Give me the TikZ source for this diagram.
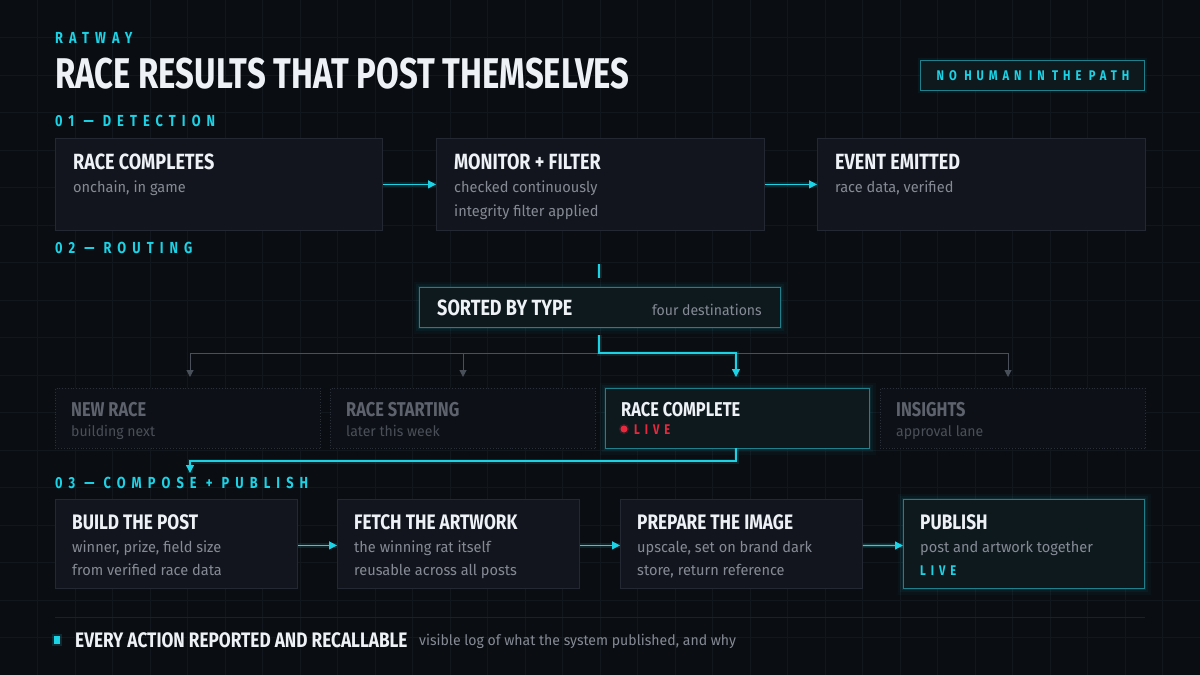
\documentclass[tikz,border=0pt]{standalone}
\usepackage{fontspec}
\setmainfont{Fira Sans}
\newfontfamily\titlef[FakeStretch=0.765]{Fira Sans}
\newfontfamily\headf[FakeStretch=0.82]{Fira Sans}
\newfontfamily\labf[FakeStretch=0.8,LetterSpace=38]{Fira Sans}
\newfontfamily\tagf[FakeStretch=0.8,LetterSpace=35]{Fira Sans}
\newfontfamily\bodyf[FakeStretch=0.97]{Fira Sans}
\usetikzlibrary{arrows.meta}
\definecolor{bgc}{HTML}{0A0D12}
\definecolor{gridc}{HTML}{12171D}
\definecolor{cardfill}{HTML}{12151D}
\definecolor{cardline}{HTML}{232833}
\definecolor{dimfill}{HTML}{0D1016}
\definecolor{dimline}{HTML}{2A2F38}
\definecolor{cyanc}{HTML}{1CD3E6}
\definecolor{tealline}{HTML}{1F7F8A}
\definecolor{activefill}{HTML}{0E191E}
\definecolor{titlec}{HTML}{EEF2F7}
\definecolor{subc}{HTML}{858A94}
\definecolor{dimtitle}{HTML}{5D626C}
\definecolor{dimsub}{HTML}{4A4F58}
\definecolor{busc}{HTML}{4A505A}
\definecolor{redc}{HTML}{E8283C}
\definecolor{rulec}{HTML}{1C2028}
\tikzset{
  card/.style={draw=cardline, fill=cardfill, line width=0.8pt, inner sep=0, anchor=north west},
  dimcard/.style={draw=dimline, fill=dimfill, line width=0.8pt, dotted, inner sep=0, anchor=north west},
  hotcard/.style={draw=tealline, fill=activefill, line width=1pt, inner sep=0, anchor=north west,
     preaction={draw=cyanc, line width=12pt, draw opacity=0.03},
     preaction={draw=cyanc, line width=7pt, draw opacity=0.05},
     preaction={draw=cyanc, line width=3.5pt, draw opacity=0.08}},
  ttl/.style={font=\headf\bfseries\fontsize{22}{22}\selectfont, text=titlec, inner sep=0, anchor=base west},
  ttlb/.style={ttl, font=\headf\bfseries\fontsize{21}{21}\selectfont},
  dimttl/.style={ttl, text=dimtitle},
  sub/.style={font=\bodyf\fontsize{15}{15}\selectfont, text=subc, inner sep=0, anchor=base west},
  dimsubt/.style={sub, text=dimsub},
  lab/.style={font=\labf\bfseries\fontsize{16}{16}\selectfont, text=cyanc, inner sep=0, anchor=base west},
  flow/.style={draw=cyanc, line width=1.3pt, -{Triangle[length=8pt,width=8pt]},
     preaction={draw=cyanc, line width=5pt, draw opacity=0.12, arrows=-}},
  cyanline/.style={draw=cyanc, line width=1.3pt,
     preaction={draw=cyanc, line width=5pt, draw opacity=0.12}},
  busline/.style={draw=busc, line width=1pt},
  busarrow/.style={draw=busc, line width=1pt, -{Triangle[length=7pt,width=7pt]}},
}
\begin{document}
\begin{tikzpicture}[x=1pt,y=-1pt]
\fill[bgc] (0,0) rectangle (1200,675);
\useasboundingbox (0,0) rectangle (1200,675);
\foreach \i in {1,...,31} \draw[gridc, line width=0.8pt] (\i*37.5,0) -- (\i*37.5,675);
\foreach \j in {1,...,17} \draw[gridc, line width=0.8pt] (0,\j*37.5) -- (1200,\j*37.5);

% header
\node[lab] (brand) at (55,43) {RATWAY};
\node[font=\titlef\bfseries\fontsize{43}{43}\selectfont, text=titlec, inner sep=0, anchor=base west] (title) at (55,88) {RACE RESULTS THAT POST THEMSELVES};
\node[draw=tealline, fill=activefill, line width=1pt, inner sep=0, anchor=north west, minimum width=224pt, minimum height=30pt,
      preaction={draw=cyanc, line width=5pt, draw opacity=0.05}] (nohuman) at (920,60) {};
\node[lab, font=\tagf\bfseries\fontsize{14}{14}\selectfont, anchor=base] (nohumant) at (1033,80) {NO HUMAN IN THE PATH};

% 01 detection
\node[lab] (l1) at (55,126) {01 — DETECTION};
\node[card, minimum width=327pt, minimum height=92pt] (rc) at (55,138) {};
\node[card, minimum width=328pt, minimum height=92pt] (mf) at (436,138) {};
\node[card, minimum width=328pt, minimum height=92pt] (ee) at (817,138) {};
\node[ttl] (rct) at (73,169) {RACE COMPLETES};
\node[sub] (rcs) at (73,192) {onchain, in game};
\node[ttl] (mft) at (454,169) {MONITOR + FILTER};
\node[sub] (mfs1) at (454,192) {checked continuously};
\node[sub] (mfs2) at (454,216) {integrity filter applied};
\node[ttl] (eet) at (835,169) {EVENT EMITTED};
\node[sub] (ees) at (835,192) {race data, verified};
\draw[flow] (rc.east) -- (mf.west);
\draw[flow] (mf.east) -- (ee.west);

% 02 routing
\node[lab] (l2) at (55,253) {02 — ROUTING};
\coordinate (stubtop) at (599,264);
\coordinate (stubbot) at (599,278);
\draw[cyanline] (stubtop) -- (stubbot);
\node[hotcard, minimum width=361pt, minimum height=40pt] (st) at (419,287) {};
\node[ttl] (stt) at (437,315) {SORTED BY TYPE};
\node[sub, anchor=base east, font=\bodyf\fontsize{14.5}{14.5}\selectfont] (sts) at (762,315) {four destinations};

\node[dimcard, minimum width=265pt, minimum height=60pt] (nr) at (55,388) {};
\node[dimcard, minimum width=265pt, minimum height=60pt] (rs) at (330,388) {};
\node[hotcard, minimum width=264pt, minimum height=60pt] (rcp) at (605,388) {};
\node[dimcard, minimum width=265pt, minimum height=60pt] (ins) at (880,388) {};
\node[dimttl, font=\headf\bfseries\fontsize{20}{20}\selectfont] (nrt) at (71,416) {NEW RACE};
\node[dimsubt, font=\bodyf\fontsize{14.5}{14.5}\selectfont] (nrs) at (71,436) {building next};
\node[dimttl, font=\headf\bfseries\fontsize{20}{20}\selectfont] (rst) at (346,416) {RACE STARTING};
\node[dimsubt, font=\bodyf\fontsize{14.5}{14.5}\selectfont] (rss) at (346,436) {later this week};
\node[ttl, font=\headf\bfseries\fontsize{20}{20}\selectfont] (rcpt) at (621,416) {RACE COMPLETE};
\node[circle, fill=redc, inner sep=0, minimum size=7pt, preaction={draw=redc, line width=3pt, draw opacity=0.2}] (livedot) at (624,429) {};
\node[lab, text=redc, font=\tagf\bfseries\fontsize{14}{14}\selectfont] (livet) at (634,434) {LIVE};
\node[dimttl, font=\headf\bfseries\fontsize{20}{20}\selectfont] (inst) at (896,416) {INSIGHTS};
\node[dimsubt, font=\bodyf\fontsize{14.5}{14.5}\selectfont] (inss) at (896,436) {approval lane};

\coordinate (busl) at (190,353);
\coordinate (bus2) at (463,353);
\coordinate (busj) at (599,353);
\coordinate (busk) at (736,353);
\coordinate (busr) at (1008,353);
\draw[busline] (busl) -- (busr);
\draw[busarrow] (busl) -- (190,377);
\draw[busarrow] (bus2) -- (463,377);
\draw[busarrow] (busr) -- (1008,377);
\coordinate (sbot) at (599,335);
\coordinate (rcin) at (736,377);
\draw[flow] (sbot) -- (busj) -- (busk) -- (rcin);

\coordinate (rcout) at (736,448);
\coordinate (retr) at (736,461);
\coordinate (retl) at (190,461);
\coordinate (retend) at (190,473);
\draw[flow] (rcout) -- (retr) -- (retl) -- (retend);

% 03 compose
\node[lab] (l3) at (55,488) {03 — COMPOSE + PUBLISH};
\node[card, minimum width=242pt, minimum height=89pt] (bp) at (55,499) {};
\node[card, minimum width=242pt, minimum height=89pt] (fa) at (337,499) {};
\node[card, minimum width=242pt, minimum height=89pt] (pi) at (620,499) {};
\node[hotcard, minimum width=241pt, minimum height=89pt] (pub) at (903,499) {};
\node[ttlb] (bpt) at (72,529) {BUILD THE POST};
\node[sub] (bps1) at (72,552) {winner, prize, field size};
\node[sub] (bps2) at (72,575) {from verified race data};
\node[ttlb] (fat) at (354,529) {FETCH THE ARTWORK};
\node[sub] (fas1) at (354,552) {the winning rat itself};
\node[sub] (fas2) at (354,575) {reusable across all posts};
\node[ttlb] (pit) at (637,529) {PREPARE THE IMAGE};
\node[sub] (pis1) at (637,552) {upscale, set on brand dark};
\node[sub] (pis2) at (637,575) {store, return reference};
\node[ttlb] (pubt) at (920,529) {PUBLISH};
\node[sub] (pubs) at (920,552) {post and artwork together};
\node[lab, font=\tagf\bfseries\fontsize{14}{14}\selectfont] (publive) at (920,575) {LIVE};
\draw[flow] ([yshift=-1.5pt]bp.east) -- ([yshift=-1.5pt]fa.west);
\draw[flow] ([yshift=-1.5pt]fa.east) -- ([yshift=-1.5pt]pi.west);
\draw[flow] ([yshift=-1.5pt]pi.east) -- ([yshift=-1.5pt]pub.west);

% footer
\coordinate (rulel) at (55,617);
\coordinate (ruler) at (1145,617);
\draw[rulec, line width=1pt] (rulel) -- (ruler);
\node[fill=cyanc, inner sep=0, minimum width=6pt, minimum height=8pt, preaction={draw=cyanc, line width=4pt, draw opacity=0.15}] (sq) at (57,640) {};
\node[ttl, font=\headf\bfseries\fontsize{21}{21}\selectfont] (foot) at (75,647) {EVERY ACTION REPORTED AND RECALLABLE};
\node[sub, font=\bodyf\fontsize{14.5}{14.5}\selectfont] (foots) at (419,645) {visible log of what the system published, and why};
\end{tikzpicture}
\end{document}
